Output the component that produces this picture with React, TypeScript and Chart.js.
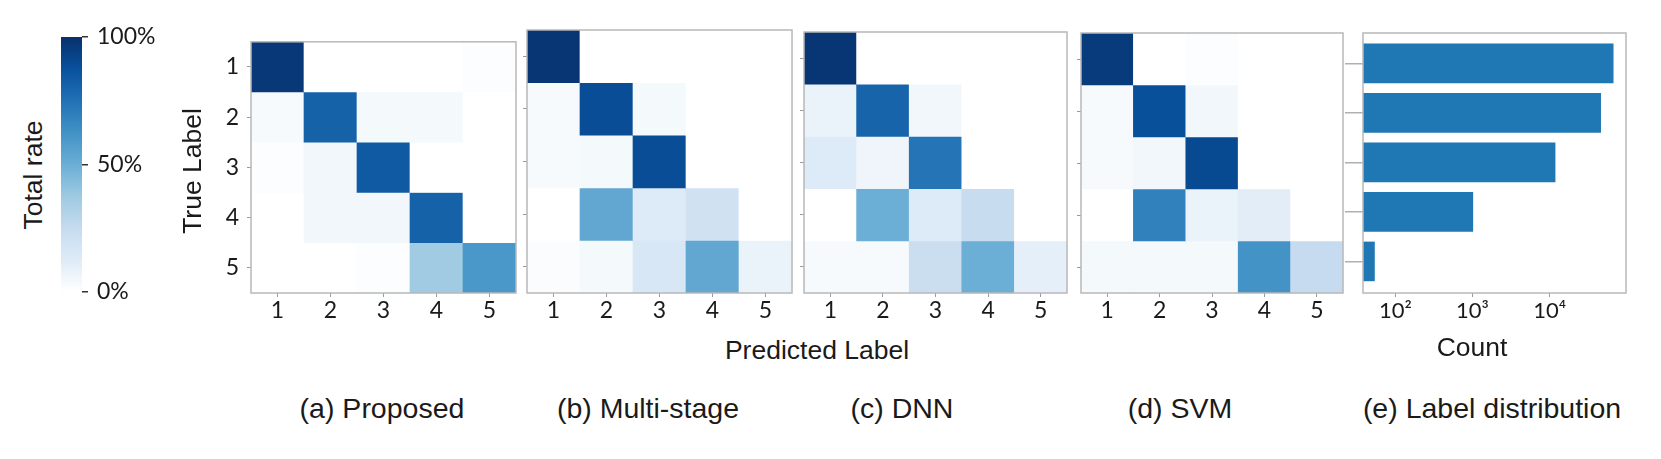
import React, { useEffect, useRef } from "react";
import { Chart, registerables } from "chart.js";

Chart.register(...registerables);

// ---------------- data ----------------
const classLabels = ["1", "2", "3", "4", "5"];

// rows = true label, cols = predicted label (rate 0..1)
const proposed = [
  [0.97, 0.0, 0.0, 0.0, 0.01],
  [0.03, 0.81, 0.04, 0.04, 0.0],
  [0.01, 0.05, 0.84, 0.0, 0.0],
  [0.0, 0.05, 0.05, 0.81, 0.0],
  [0.0, 0.0, 0.01, 0.37, 0.6],
];
const multiStage = [
  [0.98, 0.0, 0.0, 0.0, 0.0],
  [0.03, 0.89, 0.04, 0.0, 0.0],
  [0.03, 0.04, 0.89, 0.0, 0.0],
  [0.0, 0.53, 0.13, 0.2, 0.0],
  [0.02, 0.04, 0.16, 0.53, 0.08],
];
const dnn = [
  [0.98, 0.0, 0.0, 0.0, 0.0],
  [0.08, 0.8, 0.05, 0.0, 0.0],
  [0.13, 0.06, 0.74, 0.0, 0.0],
  [0.0, 0.5, 0.13, 0.24, 0.0],
  [0.03, 0.03, 0.23, 0.5, 0.1],
];
const svm = [
  [0.96, 0.0, 0.01, 0.0, 0.0],
  [0.03, 0.88, 0.05, 0.0, 0.0],
  [0.03, 0.05, 0.9, 0.0, 0.0],
  [0.0, 0.69, 0.08, 0.11, 0.0],
  [0.04, 0.04, 0.04, 0.62, 0.25],
];

const labelCounts = [67500, 46400, 11900, 1020, 54];
const countTicks = [100, 1000, 10000];
const countTickLabels = ["10²", "10³", "10⁴"];
const rateTicks = [0, 50, 100];

const captions = ["(a) Proposed", "(b) Multi-stage", "(c) DNN", "(d) SVM", "(e) Label distribution"];

// ---------------- style ----------------
const BLUES = [
  [255, 255, 255],
  [222, 235, 247],
  [198, 219, 239],
  [158, 202, 225],
  [107, 174, 214],
  [66, 146, 198],
  [33, 113, 181],
  [8, 81, 156],
  [8, 48, 107],
];
function blues(v: number): string {
  const t = Math.max(0, Math.min(1, v)) * (BLUES.length - 1);
  const i = Math.min(Math.floor(t), BLUES.length - 2);
  const f = t - i;
  const a = BLUES[i];
  const b = BLUES[i + 1];
  const c = a.map((x, k) => Math.round(x + (b[k] - x) * f));
  return `rgb(${c[0]},${c[1]},${c[2]})`;
}

const TICK_FONT = "Lato, 'DejaVu Sans', sans-serif";
const TITLE_FONT = "'Liberation Sans', Arial, sans-serif";
const TEXT = "#1a1a1a";
const FRAME = "#b8b8b8";
const CB_BAR_W = 21;

const framePlugin = {
  id: "frame",
  afterDatasetsDraw(chart: any, _args: any, opts: any) {
    const { ctx, chartArea } = chart;
    if (!chartArea) return;
    ctx.save();
    ctx.strokeStyle = opts.color || FRAME;
    ctx.lineWidth = opts.width || 1.5;
    ctx.strokeRect(chartArea.left, chartArea.top, chartArea.right - chartArea.left, chartArea.bottom - chartArea.top);
    ctx.restore();
  },
};

// fills a strip just left of the y scale with the colormap (colour bar)
const colormapPlugin = {
  id: "colormapFill",
  afterDraw(chart: any) {
    const { ctx, scales } = chart;
    const y = scales.y;
    if (!y) return;
    const top = y.getPixelForValue(y.max);
    const bottom = y.getPixelForValue(y.min);
    const g = ctx.createLinearGradient(0, bottom, 0, top);
    BLUES.forEach((_, i) => {
      const f = i / (BLUES.length - 1);
      g.addColorStop(f, blues(f));
    });
    ctx.save();
    ctx.fillStyle = g;
    ctx.fillRect(y.left - CB_BAR_W, top, CB_BAR_W, bottom - top);
    ctx.restore();
  },
};

type Box = { x: number; y: number; w: number; h: number };

function ChartCanvas({ box, make }: { box: Box; make: () => any }) {
  const ref = useRef<HTMLCanvasElement>(null);
  useEffect(() => {
    const chart = new Chart(ref.current as HTMLCanvasElement, make());
    return () => chart.destroy();
  }, []);
  return (
    <canvas
      ref={ref}
      width={box.w}
      height={box.h}
      style={{ position: "absolute", left: box.x, top: box.y, width: box.w, height: box.h }}
    />
  );
}

// panel plot areas (layout)
const AXIS_W = 60;
const AXIS_H = 40;
const PAD_T = 10;
const PAD_R = 6;
const panelAreas = [
  { x: 251, y: 30, w: 265, h: 263 },
  { x: 527, y: 30, w: 265, h: 263 },
  { x: 804, y: 32, w: 263, h: 261 },
  { x: 1081, y: 33, w: 262, h: 260 },
];

function heatmapConfig(matrix: number[][], showY: boolean) {
  return {
    type: "bar",
    data: {
      labels: classLabels,
      datasets: matrix.map((row, r) => ({
        data: row.map(() => [r, r + 1]),
        backgroundColor: row.map(blues),
        borderWidth: 0,
        barPercentage: 1,
        categoryPercentage: 1,
        grouped: false,
      })),
    },
    plugins: [framePlugin],
    options: {
      animation: false,
      responsive: false,
      events: [],
      layout: { padding: { left: 0, top: PAD_T, right: PAD_R, bottom: 0 } },
      plugins: {
        legend: { display: false },
        tooltip: { enabled: false },
        frame: { color: FRAME, width: 1.5 },
      },
      scales: {
        x: {
          type: "category",
          offset: true,
          border: { display: false },
          grid: { offset: false, drawOnChartArea: false, drawTicks: true, tickLength: 4, color: "#9a9a9a" },
          ticks: { padding: 0, color: TEXT, font: { size: 23, family: TICK_FONT }, maxRotation: 0, autoSkip: false },
          afterFit: (s: any) => {
            s.height = AXIS_H;
          },
        },
        y: {
          type: "linear",
          min: 0,
          max: classLabels.length,
          reverse: true,
          offset: false,
          border: { display: false },
          grid: { drawOnChartArea: false, drawTicks: true, tickLength: 4, color: "#9a9a9a" },
          afterBuildTicks: (s: any) => {
            s.ticks = classLabels.map((_, i) => ({ value: i + 0.5 }));
          },
          ticks: {
            display: showY,
            padding: 8,
            color: TEXT,
            font: { size: 23, family: TICK_FONT },
            callback: (v: number) => classLabels[Math.floor(v)],
          },
          afterFit: (s: any) => {
            s.width = AXIS_W;
          },
        },
      },
    },
  };
}

// colorbar
const CB_AREA = { x: 61, y: 37, w: CB_BAR_W, h: 255 };
const CB_BOX: Box = { x: 0, y: 0, w: 200, h: 330 };
function colorbarConfig() {
  return {
    type: "scatter",
    data: { datasets: [] },
    plugins: [colormapPlugin],
    options: {
      animation: false,
      responsive: false,
      events: [],
      layout: {
        padding: {
          left: CB_AREA.x - CB_BOX.x,
          top: CB_AREA.y - CB_BOX.y,
          bottom: CB_BOX.y + CB_BOX.h - (CB_AREA.y + CB_AREA.h),
          right: 0,
        },
      },
      plugins: { legend: { display: false }, tooltip: { enabled: false } },
      scales: {
        x: { display: false },
        y: {
          type: "linear",
          position: "right",
          min: rateTicks[0],
          max: rateTicks[rateTicks.length - 1],
          border: { display: false },
          grid: { drawOnChartArea: false, drawTicks: true, tickLength: 6, color: "#333", lineWidth: 1.5 },
          afterBuildTicks: (s: any) => {
            s.ticks = rateTicks.map((v) => ({ value: v }));
          },
          ticks: {
            padding: 9,
            color: TEXT,
            font: { size: 23, family: TICK_FONT },
            callback: (v: number) => `${v}%`,
          },
          afterFit: (s: any) => {
            s.width = CB_BOX.x + CB_BOX.w - (CB_AREA.x + CB_AREA.w);
          },
        },
      },
    },
  };
}

// label distribution bar chart
const BAR_AREA = { x: 1363, y: 33, w: 263, h: 260 };
const BAR_AXIS_W = 18;
const BAR_PAD_T = 12;
const BAR_BOX: Box = {
  x: BAR_AREA.x - BAR_AXIS_W,
  y: BAR_AREA.y - BAR_PAD_T,
  w: BAR_AXIS_W + BAR_AREA.w + 20,
  h: BAR_PAD_T + BAR_AREA.h + AXIS_H,
};
function barConfig() {
  return {
    type: "bar",
    data: {
      datasets: [
        {
          data: labelCounts.map((c, i) => ({ x: c, y: i + 1 })),
          backgroundColor: "#1f77b4",
          borderWidth: 0,
          barPercentage: 0.8,
          categoryPercentage: 1,
        },
      ],
    },
    plugins: [framePlugin],
    options: {
      indexAxis: "y",
      animation: false,
      responsive: false,
      events: [],
      layout: { padding: { left: 0, top: BAR_PAD_T, right: 20, bottom: 0 } },
      plugins: {
        legend: { display: false },
        tooltip: { enabled: false },
        frame: { color: FRAME, width: 1.5 },
      },
      scales: {
        x: {
          type: "logarithmic",
          min: 38,
          max: 98000,
          offset: false,
          border: { display: false },
          grid: { drawOnChartArea: false, drawTicks: true, tickLength: 4, color: "#9a9a9a" },
          afterBuildTicks: (s: any) => {
            s.ticks = countTicks.map((v) => ({ value: v }));
          },
          ticks: {
            padding: 1,
            color: TEXT,
            font: { size: 22, family: TICK_FONT },
            maxRotation: 0,
            autoSkip: false,
            callback: (v: number) => countTickLabels[countTicks.indexOf(v)],
          },
          afterFit: (s: any) => {
            s.height = AXIS_H;
          },
        },
        y: {
          type: "linear",
          min: 0.386,
          max: 5.638,
          reverse: true,
          offset: false,
          border: { display: false },
          grid: { drawOnChartArea: false, drawTicks: true, tickLength: 18, color: "#b0b0b0", lineWidth: 1.5 },
          afterBuildTicks: (s: any) => {
            s.ticks = classLabels.slice(1).map((_, i) => ({ value: i + 1.5 }));
          },
          ticks: { display: false },
          afterFit: (s: any) => {
            s.width = BAR_AXIS_W;
          },
        },
      },
    },
  };
}

function Label({ text, x, y, size, rotate = 0 }: { text: string; x: number; y: number; size: number; rotate?: number }) {
  return (
    <div
      style={{
        position: "absolute",
        left: x,
        top: y,
        transform: `translate(-50%, -50%) rotate(${rotate}deg)`,
        fontFamily: TITLE_FONT,
        fontSize: size,
        color: TEXT,
        whiteSpace: "nowrap",
        lineHeight: 1,
        pointerEvents: "none",
      }}
    >
      {text}
    </div>
  );
}

const matrices = [proposed, multiStage, dnn, svm];
const captionX = [382, 648, 902, 1180, 1492];

export default function App() {
  return (
    <div style={{ position: "absolute", left: 0, top: 0, width: 1661, height: 459, background: "#fff", overflow: "hidden" }}>
      {matrices.map((m, i) => {
        const a = panelAreas[i];
        const box: Box = { x: a.x - AXIS_W, y: a.y - PAD_T, w: AXIS_W + a.w + PAD_R, h: PAD_T + a.h + AXIS_H };
        return <ChartCanvas key={i} box={box} make={() => heatmapConfig(m, i === 0)} />;
      })}
      <ChartCanvas box={BAR_BOX} make={barConfig} />
      <Label text="Total rate" x={33} y={175} size={26.5} rotate={-90} />
      <Label text="True Label" x={192} y={171} size={26.5} rotate={-90} />
      <Label text="Predicted Label" x={817} y={350} size={26.5} />
      <Label text="Count" x={1472} y={347} size={26.5} />
      {captions.map((c, i) => (
        <Label key={c} text={c} x={captionX[i]} y={408} size={28.5} />
      ))}
      <ChartCanvas box={CB_BOX} make={colorbarConfig} />
    </div>
  );
}
